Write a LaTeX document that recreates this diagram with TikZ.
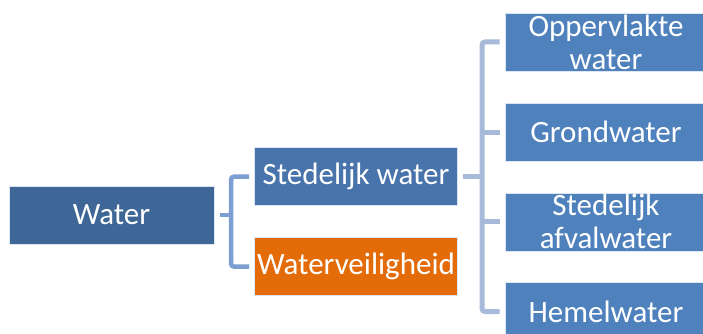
\documentclass[tikz,border=0pt]{standalone}
\usepackage{fontspec}
\setmainfont{Carlito}
\definecolor{cwater}{HTML}{3E6696}
\definecolor{csted}{HTML}{4873AB}
\definecolor{cright}{HTML}{4F81BD}
\definecolor{corange}{HTML}{E36C09}
\definecolor{cconnL}{HTML}{7C9ED0}
\definecolor{cconnR}{HTML}{A7BADA}
\tikzset{
  box/.style={draw=white!80!cright, line width=0.6pt, minimum height=58pt, text=white,
    font=\fontsize{31}{33}\selectfont, align=center, inner sep=0pt},
  connL/.style={draw=cconnL, line width=4.5pt, rounded corners=3pt},
  connR/.style={draw=cconnR, line width=5pt, rounded corners=3pt}
}
\begin{document}
\begin{tikzpicture}[x=1pt,y=-1pt]
\useasboundingbox (0,0) rectangle (703,334);
\clip (0,0) rectangle (703,334);
\fill[white] (0,0) rectangle (703,334);
\node[box, fill=cwater, minimum width=205pt] (water) at (111.5,215) {Water};
\node[box, fill=csted, minimum width=203pt] (sw) at (356,176.7) {Stedelijk water};
\node[box, fill=corange, minimum width=203pt] (wv) at (356,266.5) {Waterveiligheid};
\node[box, fill=cright, minimum width=202pt] (r1) at (606,42) {Oppervlakte\\water};
\node[box, fill=cright, minimum width=202pt] (r2) at (606,132) {Grondwater};
\node[box, fill=cright, minimum width=202pt] (r3) at (606,221.8) {Stedelijk\\afvalwater};
\node[box, fill=cright, minimum width=202pt] (r4) at (606,311.5) {Hemelwater};
\coordinate (lb) at (231,215);
\coordinate (rb) at (482,176.7);
\draw[connL] ([xshift=-5pt]sw.west) -| (lb) |- ([xshift=-5pt]wv.west);
\draw[connL] ([xshift=6pt]water.east) -- (lb);
\draw[connR] ([xshift=-5pt]r1.west) -| (rb) |- ([xshift=-5pt]r4.west);
\draw[connR] ([xshift=-5pt]r2.west) -- (rb |- r2.west);
\draw[connR] ([xshift=-5pt]r3.west) -- (rb |- r3.west);
\draw[connR] ([xshift=5pt]sw.east) -- (rb);
\end{tikzpicture}
\end{document}
